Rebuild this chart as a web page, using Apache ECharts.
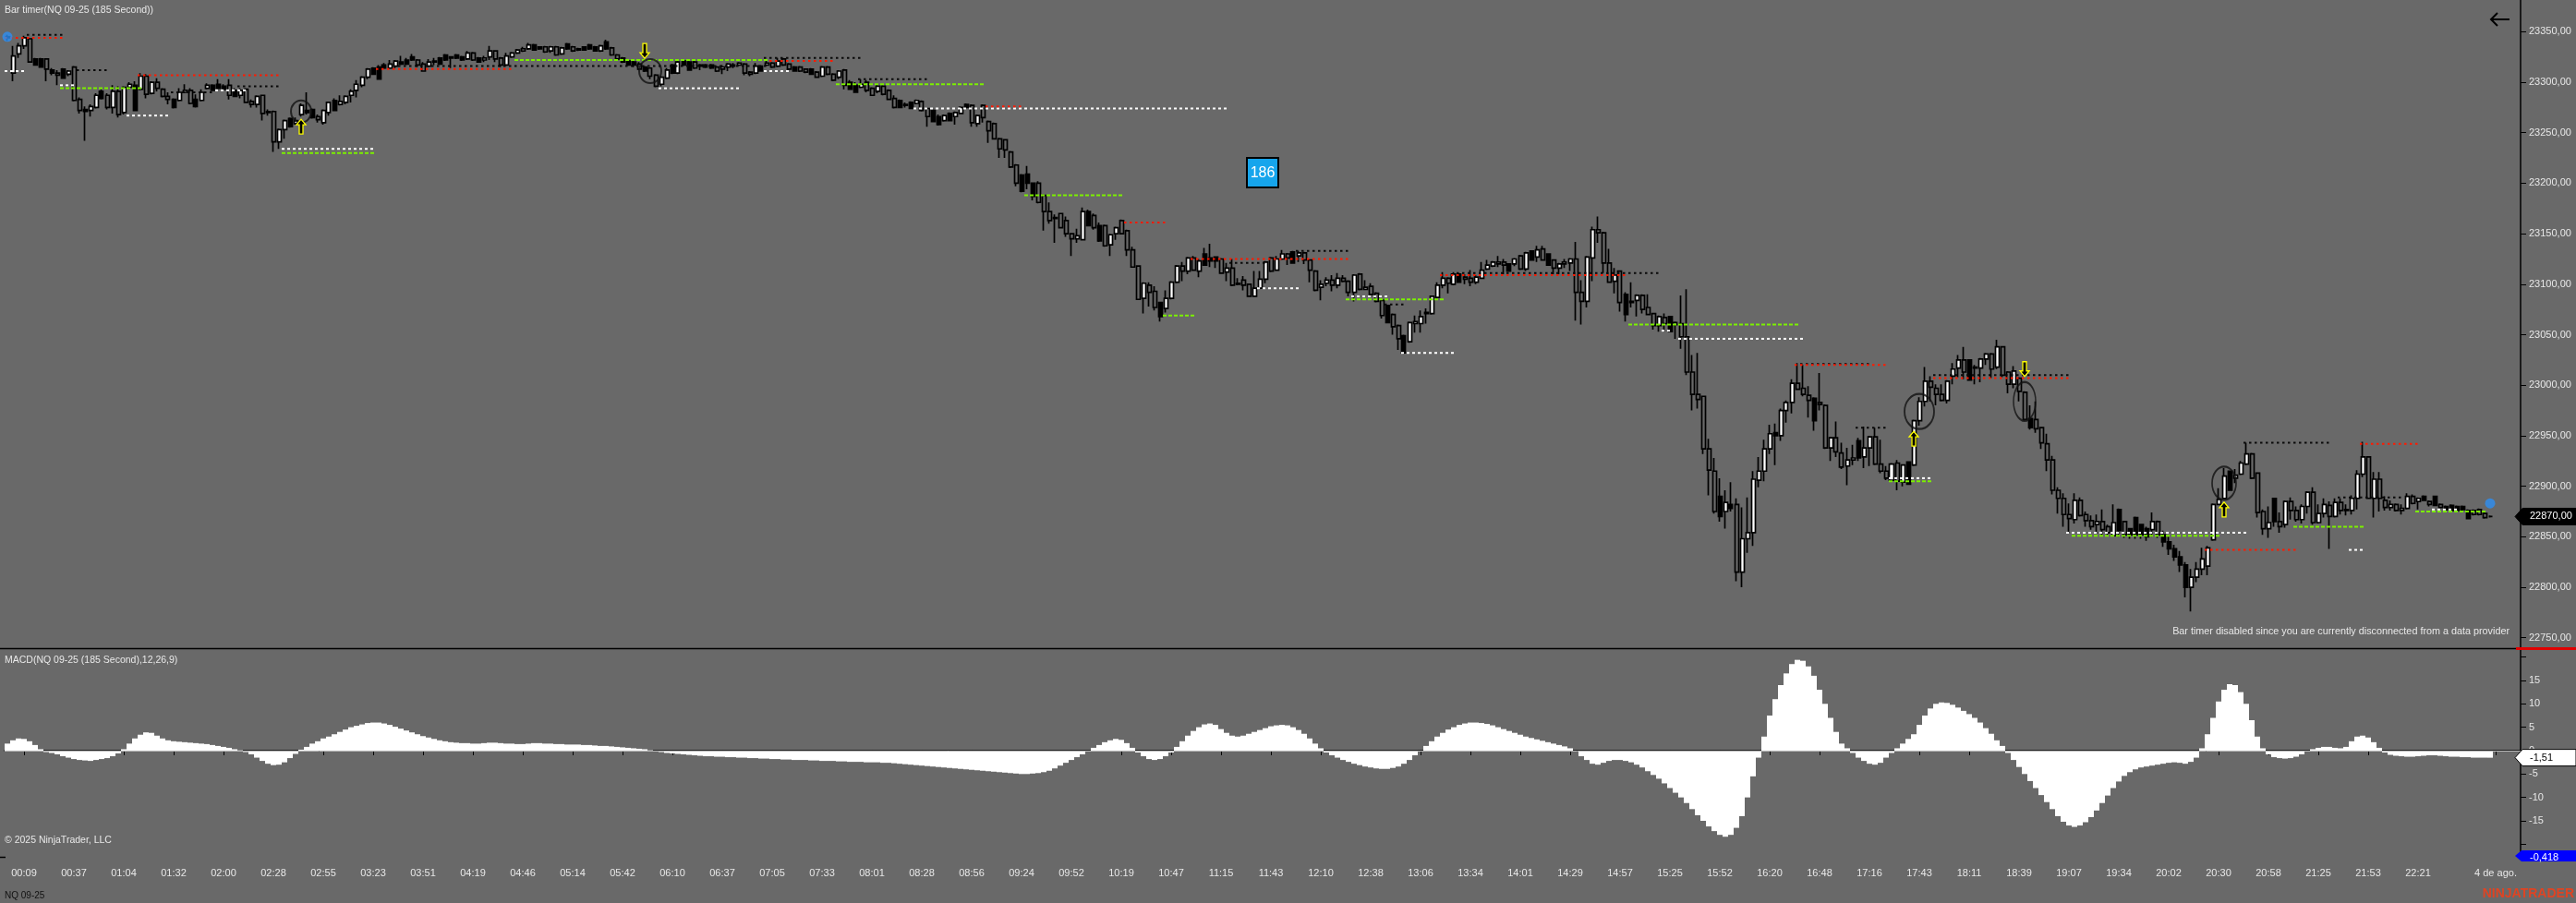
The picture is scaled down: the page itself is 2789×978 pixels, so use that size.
<!DOCTYPE html>
<html><head><meta charset="utf-8">
<script src="https://cdn.jsdelivr.net/npm/echarts@6/dist/echarts.min.js"></script>
<style>html,body{margin:0;padding:0;background:#696969;overflow:hidden}#c{width:2789px;height:978px}</style>
</head><body><div id="c"></div>
<script>
// ---------- DATA ----------
const tickLabels = ['00:09','00:37','01:04','01:32','02:00','02:28','02:55','03:23','03:51','04:19','04:46','05:14','05:42','06:10','06:37','07:05','07:33','08:01','08:28','08:56','09:24','09:52','10:19','10:47','11:15','11:43','12:10','12:38','13:06','13:34','14:01','14:29','14:57','15:25','15:52','16:20','16:48','17:16','17:43','18:11','18:39','19:07','19:34','20:02','20:30','20:58','21:25','21:53','22:21'];
const nextSessionLabel = '4 de ago.';
const priceTicks = [22750,22800,22850,22900,22950,23000,23050,23100,23150,23200,23250,23300,23350];
const macdLabelTicks = [-15,-10,-5,0,5,10,15];
const macdTickMarks = [-20,-15,-10,-5,0,5,10,15,20];
const barTimerValue = '186';
const macdSecondValue = -0.418;

// [open, high, low, close]
const ohlc = [
/*0*/[23344,23347,23341,23345],[23309,23336,23301,23326],[23328,23339,23324,23336],[23336,23346,23333,23344],[23343,23344,23320,23320],
/*5*/[23323,23324,23317,23317],[23323,23324,23315,23315],[23323,23323,23301,23313],[23312,23314,23307,23309],[23309,23312,23297,23307],
/*10*/[23313,23314,23304,23304],[23308,23312,23306,23311],[23315,23316,23281,23282],[23283,23285,23269,23272],[23273,23276,23242,23271],
/*15*/[23272,23278,23266,23276],[23275,23289,23274,23287],[23291,23293,23283,23284],[23287,23289,23273,23275],[23275,23297,23269,23291],
/*20*/[23291,23296,23265,23268],[23270,23296,23268,23295],[23295,23300,23293,23298],[23297,23301,23272,23272],[23293,23309,23292,23306],
/*25*/[23306,23308,23284,23288],[23289,23301,23288,23300],[23300,23304,23291,23294],[23293,23294,23285,23286],[23286,23290,23278,23283],
/*30*/[23283,23284,23274,23275],[23282,23294,23281,23290],[23290,23298,23289,23292],[23292,23294,23278,23279],[23283,23288,23275,23276],
/*35*/[23282,23293,23281,23290],[23294,23299,23293,23297],[23297,23298,23292,23292],[23298,23303,23293,23294],[23296,23298,23292,23293],
/*40*/[23297,23303,23283,23287],[23292,23294,23286,23286],[23287,23294,23284,23292],[23293,23294,23280,23280],[23281,23283,23275,23278],
/*45*/[23278,23287,23275,23286],[23287,23287,23262,23269],[23270,23273,23267,23271],[23271,23272,23231,23241],[23241,23254,23234,23253],
/*50*/[23253,23263,23244,23262],[23264,23265,23255,23256],[23259,23265,23258,23262],[23268,23279,23266,23277],[23272,23290,23268,23270],
/*55*/[23273,23274,23264,23265],[23266,23268,23260,23263],[23260,23273,23258,23272],[23270,23280,23267,23280],[23282,23284,23272,23272],
/*60*/[23278,23287,23277,23281],[23280,23287,23278,23286],[23287,23293,23280,23291],[23292,23302,23285,23298],[23297,23306,23295,23305],
/*65*/[23305,23314,23303,23313],[23314,23315,23308,23308],[23315,23317,23303,23303],[23317,23319,23313,23314],[23314,23322,23313,23318],
/*70*/[23316,23322,23314,23321],[23320,23326,23317,23318],[23322,23324,23317,23318],[23325,23328,23321,23322],[23322,23323,23315,23317],
/*75*/[23318,23320,23311,23311],[23316,23323,23315,23320],[23320,23324,23317,23321],[23324,23325,23317,23318],[23327,23328,23321,23322],
/*80*/[23324,23325,23314,23325],[23327,23328,23323,23324],[23325,23326,23321,23322],[23323,23331,23322,23329],[23329,23330,23321,23322],
/*85*/[23324,23325,23320,23320],[23322,23326,23320,23324],[23325,23336,23322,23331],[23331,23331,23320,23323],[23324,23325,23315,23317],
/*90*/[23317,23329,23316,23326],[23325,23330,23324,23329],[23329,23333,23328,23332],[23331,23335,23330,23333],[23333,23339,23332,23337],
/*95*/[23337,23338,23332,23332],[23335,23335,23332,23333],[23335,23336,23329,23330],[23331,23336,23329,23335],[23335,23336,23326,23327],
/*100*/[23328,23335,23327,23334],[23338,23339,23332,23333],[23335,23336,23330,23331],[23333,23334,23331,23332],[23335,23335,23332,23332],
/*105*/[23337,23338,23332,23333],[23335,23336,23331,23331],[23331,23337,23330,23336],[23340,23342,23332,23333],[23334,23335,23326,23327],
/*110*/[23327,23328,23322,23323],[23324,23325,23319,23320],[23321,23322,23316,23317],[23320,23322,23315,23317],[23318,23320,23312,23313],
/*115*/[23315,23316,23310,23311],[23314,23315,23303,23306],[23307,23308,23295,23296],[23298,23306,23296,23305],[23304,23314,23303,23312],
/*120*/[23317,23318,23308,23309],[23309,23322,23308,23320],[23321,23322,23316,23317],[23320,23321,23312,23312],[23320,23321,23313,23314],
/*125*/[23316,23318,23312,23317],[23317,23318,23314,23315],[23317,23318,23313,23314],[23315,23316,23310,23311],[23313,23317,23308,23315],
/*130*/[23315,23319,23311,23318],[23316,23319,23314,23317],[23317,23320,23316,23319],[23318,23319,23307,23309],[23310,23311,23306,23308],
/*135*/[23309,23319,23308,23316],[23316,23317,23311,23311],[23317,23323,23316,23319],[23319,23320,23314,23315],[23316,23324,23315,23321],
/*140*/[23323,23324,23316,23317],[23318,23319,23312,23313],[23315,23316,23311,23311],[23315,23316,23310,23311],[23313,23313,23309,23310],
/*145*/[23313,23314,23308,23308],[23310,23311,23305,23305],[23306,23316,23305,23315],[23315,23316,23307,23308],[23308,23309,23301,23302],
/*150*/[23305,23312,23303,23311],[23312,23313,23293,23297],[23300,23302,23293,23293],[23297,23300,23290,23290],[23295,23303,23294,23298],
/*155*/[23300,23302,23290,23292],[23294,23295,23287,23287],[23291,23298,23289,23296],[23296,23297,23287,23288],[23292,23293,23283,23283],
/*160*/[23284,23287,23274,23275],[23282,23283,23275,23275],[23277,23280,23275,23278],[23280,23281,23274,23274],[23279,23283,23278,23282],
/*165*/[23281,23282,23271,23272],[23274,23275,23256,23266],[23272,23273,23261,23261],[23266,23268,23257,23258],[23262,23268,23261,23267],
/*170*/[23269,23270,23262,23262],[23266,23271,23258,23270],[23269,23276,23269,23275],[23278,23279,23274,23275],[23277,23278,23256,23260],
/*175*/[23259,23268,23256,23267],[23277,23278,23260,23265],[23261,23262,23240,23252],[23259,23260,23244,23244],[23244,23245,23225,23234],
/*180*/[23243,23243,23225,23233],[23231,23232,23215,23216],[23218,23219,23197,23200],[23208,23209,23191,23192],[23209,23217,23194,23200],
/*185*/[23200,23200,23183,23187],[23200,23202,23180,23181],[23188,23188,23153,23172],[23172,23181,23160,23163],[23166,23169,23141,23165],
/*190*/[23170,23170,23156,23156],[23163,23167,23147,23150],[23150,23150,23128,23145],[23145,23155,23141,23148],[23144,23176,23144,23172],
/*195*/[23172,23174,23158,23158],[23168,23170,23154,23156],[23158,23161,23142,23143],[23158,23159,23137,23138],[23139,23150,23128,23149],
/*200*/[23150,23157,23144,23156],[23163,23164,23150,23150],[23153,23154,23128,23134],[23134,23137,23117,23117],[23118,23118,23085,23085],
/*205*/[23086,23102,23071,23101],[23099,23102,23078,23092],[23093,23098,23074,23077],[23082,23082,23063,23068],[23076,23094,23072,23086],
/*210*/[23086,23103,23085,23102],[23102,23119,23101,23118],[23118,23122,23103,23113],[23113,23127,23110,23126],[23126,23128,23113,23114],
/*215*/[23113,23125,23107,23123],[23130,23136,23119,23119],[23126,23140,23117,23123],[23127,23127,23116,23123],[23125,23126,23111,23111],
/*220*/[23112,23121,23103,23116],[23116,23125,23098,23099],[23100,23106,23099,23101],[23104,23108,23094,23099],[23100,23100,23088,23088],
/*225*/[23088,23113,23088,23096],[23096,23113,23095,23105],[23105,23123,23101,23122],[23126,23127,23112,23113],[23114,23128,23113,23125],
/*230*/[23125,23134,23124,23130],[23130,23131,23119,23126],[23132,23133,23121,23121],[23128,23133,23122,23131],[23131,23132,23120,23124],
/*235*/[23124,23124,23102,23114],[23113,23114,23093,23094],[23097,23104,23084,23100],[23101,23107,23098,23104],[23104,23109,23093,23099],
/*240*/[23099,23111,23096,23106],[23106,23109,23102,23103],[23103,23104,23088,23092],[23092,23110,23083,23109],[23110,23111,23094,23095],
/*245*/[23095,23104,23095,23097],[23098,23101,23089,23090],[23091,23092,23082,23083],[23084,23085,23066,23069],[23079,23079,23062,23062],
/*250*/[23070,23071,23050,23058],[23059,23060,23035,23046],[23049,23050,23031,23032],[23043,23063,23042,23062],[23061,23069,23052,23063],
/*255*/[23061,23074,23052,23068],[23071,23076,23061,23072],[23071,23089,23070,23088],[23087,23102,23086,23099],[23099,23112,23096,23106],
/*260*/[23106,23107,23091,23101],[23100,23112,23099,23110],[23110,23111,23102,23102],[23107,23110,23100,23105],[23106,23114,23098,23102],
/*265*/[23102,23109,23100,23107],[23106,23122,23106,23114],[23115,23124,23114,23119],[23118,23123,23117,23122],[23120,23128,23117,23122],
/*270*/[23122,23125,23110,23119],[23120,23120,23113,23113],[23120,23126,23118,23125],[23128,23129,23114,23115],[23115,23132,23113,23131],
/*275*/[23133,23133,23124,23124],[23127,23138,23122,23134],[23135,23138,23124,23124],[23130,23130,23119,23119],[23124,23124,23110,23116],
/*280*/[23116,23121,23110,23120],[23120,23125,23116,23122],[23121,23126,23113,23125],[23125,23142,23064,23092],[23092,23104,23060,23083],
/*285*/[23083,23128,23077,23127],[23126,23157,23103,23154],[23154,23167,23141,23151],[23151,23152,23111,23121],[23121,23135,23102,23102],
/*290*/[23103,23116,23091,23109],[23113,23113,23073,23082],[23090,23092,23063,23070],[23082,23102,23077,23083],[23084,23090,23068,23089],
/*295*/[23089,23090,23071,23075],[23077,23090,23070,23070],[23071,23071,23055,23059],[23059,23069,23053,23068],[23067,23071,23053,23061],
/*300*/[23068,23068,23053,23053],[23060,23063,23046,23062],[23061,23089,23036,23048],[23048,23095,23010,23013],[23013,23030,22975,22991],
/*305*/[22991,23032,22977,22986],[22989,22989,22932,22937],[22937,22947,22891,22916],[22915,22928,22873,22875],[22890,22908,22865,22870],
/*310*/[22875,22896,22858,22884],[22882,22904,22875,22878],[22882,22888,22806,22815],[22815,22879,22800,22848],[22848,22889,22834,22854],
/*315*/[22854,22915,22841,22907],[22906,22929,22899,22915],[22915,22946,22905,22937],[22937,22961,22932,22952],[22953,22962,22921,22950],
/*320*/[22950,22977,22945,22975],[22975,22985,22963,22983],[22983,23006,22972,23002],[23002,23022,22996,22996],[22997,23020,22989,22991],
/*325*/[22990,22999,22968,22985],[22987,22988,22955,22965],[22983,23012,22975,22981],[22980,22981,22937,22938],[22938,22949,22925,22948],
/*330*/[22948,22964,22929,22934],[22933,22943,22917,22919],[22920,22938,22901,22926],[22926,22941,22921,22928],[22945,22948,22925,22928],
/*335*/[22929,22959,22918,22938],[22938,22950,22920,22949],[22949,22958,22921,22922],[22922,22946,22913,22915],[22915,22920,22906,22908],
/*340*/[22906,22923,22905,22922],[22923,22926,22896,22905],[22904,22921,22900,22921],[22924,22924,22902,22902],[22921,22966,22920,22965],
/*345*/[22965,22988,22960,22984],[22984,23018,22979,23004],[23004,23009,22984,22998],[22997,23001,22980,22991],[22991,23001,22984,22985],
/*350*/[22985,23005,22982,23004],[23009,23022,23001,23016],[23017,23030,23008,23025],[23025,23038,23006,23013],[23025,23025,23005,23005],
/*355*/[23017,23020,23001,23018],[23017,23027,23003,23026],[23026,23032,23020,23031],[23031,23032,23007,23016],[23018,23045,23016,23038],
/*360*/[23038,23038,23008,23010],[23013,23014,22992,23001],[23001,23019,22997,23014],[23007,23008,22984,22994],[22993,22994,22965,22966],
/*365*/[22967,22980,22956,22958],[22966,22984,22953,22957],[22958,22958,22937,22943],[22942,22952,22915,22926],[22926,22930,22892,22896],
/*370*/[22896,22899,22873,22888],[22888,22893,22860,22872],[22872,22883,22854,22868],[22867,22893,22863,22886],[22886,22889,22870,22871],
/*375*/[22872,22875,22860,22866],[22866,22871,22857,22860],[22862,22872,22853,22865],[22865,22877,22851,22857],[22860,22862,22851,22854],
/*380*/[22851,22882,22851,22864],[22877,22878,22850,22856],[22865,22865,22849,22852],[22858,22858,22848,22852],[22869,22870,22848,22852],
/*385*/[22862,22862,22848,22852],[22858,22860,22846,22850],[22857,22874,22850,22865],[22865,22866,22849,22852],[22852,22856,22840,22845],
/*390*/[22845,22850,22832,22838],[22838,22842,22826,22830],[22830,22836,22815,22822],[22822,22825,22790,22800],[22800,22818,22776,22810],
/*395*/[22810,22825,22805,22818],[22818,22839,22812,22828],[22821,22841,22812,22839],[22847,22883,22846,22882],[22882,22898,22882,22887],
/*400*/[22888,22918,22888,22910],[22915,22915,22896,22896],[22908,22917,22903,22911],[22912,22925,22911,22923],[22922,22943,22921,22932],
/*405*/[22932,22933,22907,22908],[22913,22913,22869,22874],[22875,22877,22852,22858],[22858,22880,22849,22864],[22888,22888,22860,22865],
/*410*/[22865,22874,22854,22860],[22862,22886,22859,22885],[22885,22889,22867,22876],[22876,22880,22865,22867],[22867,22882,22863,22880],
/*415*/[22880,22895,22873,22894],[22894,22899,22862,22864],[22864,22882,22863,22873],[22873,22888,22869,22882],[22881,22885,22838,22870],
/*420*/[22870,22888,22869,22884],[22884,22888,22872,22876],[22876,22882,22871,22877],[22876,22891,22872,22888],[22888,22916,22877,22912],
/*425*/[22912,22944,22909,22929],[22929,22929,22888,22888],[22888,22914,22869,22907],[22907,22914,22875,22888],[22886,22890,22876,22879],
/*430*/[22879,22886,22876,22882],[22882,22883,22875,22876],[22876,22882,22872,22878],[22878,22893,22877,22890],[22890,22892,22882,22883],
/*435*/[22885,22889,22877,22888],[22890,22891,22886,22886],[22885,22886,22880,22882],[22890,22890,22881,22881],[22882,22883,22878,22879],
/*440*/[22880,22881,22876,22877],[22881,22882,22876,22876],[22880,22881,22876,22876],[22880,22881,22876,22877],[22876,22877,22868,22868],
/*445*/[22876,22877,22871,22872],[22877,22878,22871,22872],[22873,22874,22868,22869],[22870,22871,22869,22870]
];

// bars drawn hollow (painted transparent by the chart style)
const hollowBars = [4,7,9,12,13,18,20,25,27,28,29,33,40,43,44,46,48,56,
74,75,84,88,89,97,99,102,109,110,
114,116,117,124,128,133,134,138,140,141,143,144,146,148,149,151,155,156,158,159,160,165,166,
174,176,177,178,179,180,181,182,186,187,188,190,191,192,196,198,201,202,203,204,206,207,212,214,219,221,223,224,
228,231,234,235,236,239,241,242,244,246,247,248,250,251,260,263,264,270,273,277,279,283,
284,287,288,289,291,295,296,297,299,302,303,304,305,306,307,308,312,323,324,325,327,328,330,331,337,338,339,
341,347,348,349,353,358,360,361,363,364,366,367,368,369,370,371,372,374,375,376,378,379,382,388,
405,406,407,410,412,413,416,419,421,426,428,429,431,434,437,439,445,446,447];

const macd = [
1.5,2.2,2.6,2.5,2.0,1.2,
0.3,-0.3,-0.5,-0.8,
-1.2,-1.5,-1.8,-2.0,-2.1,-2.2,-2.0,-1.8,-1.6,-1.2,-0.6,0.3,
1.5,2.6,3.4,3.9,3.8,3.2,2.6,
2.2,2.0,1.9,1.8,1.7,1.6,1.5,1.4,1.2,1.0,0.8,0.6,0.3,
0.1,-0.3,-0.8,-1.5,-2.2,
-2.8,-3.1,-3.0,-2.5,-1.6,-0.7,
0.2,0.8,1.5,2.0,2.6,
3.0,3.5,4.0,4.5,5.0,5.3,5.6,5.9,6.0,6.0,5.8,5.5,5.1,
4.7,4.3,3.9,3.5,3.1,2.8,2.5,2.2,2.0,1.8,
1.7,1.6,1.6,1.5,1.5,1.6,1.7,1.7,1.6,1.5,1.5,1.4,1.4,1.5,1.6,1.6,1.5,1.5,1.4,1.4,1.3,1.3,1.3,1.2,1.2,
1.1,1.0,1.0,0.9,0.8,0.7,0.6,0.5,0.4,0.3,0.1,-0.1,
-0.3,-0.5,-0.6,-0.7,-0.8,-0.9,-1.0,-1.1,-1.2,-1.2,-1.3,-1.3,-1.4,-1.4,-1.5,
-1.5,-1.6,-1.6,-1.7,-1.7,-1.8,-1.8,-1.9,-1.9,-2.0,-2.0,-2.0,-2.1,-2.1,-2.2,-2.2,-2.2,-2.3,-2.3,-2.4,-2.4,-2.4,-2.5,-2.5,-2.5,-2.6,
-2.6,-2.7,-2.8,-2.9,-3.0,-3.1,-3.2,-3.3,-3.4,-3.5,-3.6,-3.7,-3.8,-3.9,-4.0,-4.1,-4.2,-4.3,
-4.4,-4.5,-4.6,-4.7,-4.8,-4.9,-5.0,-5.0,-4.9,-4.8,-4.6,-4.3,
-3.8,-3.2,-2.6,-2.0,-1.4,-0.8,-0.2,
0.6,1.2,1.8,2.2,2.5,2.3,1.6,
0.6,-0.4,-1.2,-1.8,-2.0,-1.8,-1.2,-0.4,
0.8,2.0,3.2,4.2,5.0,5.6,5.8,5.5,4.6,
3.8,3.2,3.0,3.2,3.6,
4.0,4.4,4.8,5.2,5.4,5.5,5.4,5.0,4.4,3.6,
2.6,1.5,0.5,-0.4,-1.0,-1.5,-2.0,-2.4,-2.8,-3.1,-3.4,
-3.6,-3.8,-3.9,-3.9,-3.7,-3.4,-2.8,-2.0,-1.0,0.0,1.0,
2.0,3.0,3.8,4.5,5.0,5.5,5.8,6.0,6.0,5.9,5.7,5.4,5.0,4.6,4.2,3.8,
3.4,3.0,2.7,2.4,2.1,1.8,1.5,1.2,0.9,0.5,0.0,
-1.2,-2.0,-2.8,-3.0,-2.6,
-2.2,-2.0,-2.0,-2.2,-2.5,-3.0,-3.6,
-4.4,-5.2,-6.0,-7.0,-8.0,-9.0,-10.0,-11.2,-12.5,-13.8,
-15.0,-16.2,-17.2,-18.0,-18.4,-18.0,-16.5,-14.0,
-10.0,-5.5,-1.5,
3.0,7.5,11.0,14.0,16.5,
18.5,19.4,19.2,18.0,16.0,
13.0,10.0,7.0,4.0,1.5,
0.5,-0.5,-1.5,-2.2,-2.8,-3.0,-2.6,-1.5,
-0.5,0.5,1.5,2.5,3.5,5.5,
7.5,9.0,10.0,10.3,10.2,9.8,9.2,8.5,7.8,
7.0,6.0,4.8,3.6,2.2,
1.0,-0.5,-2.0,-3.5,-5.0,-6.5,
-8.0,-9.5,-11.0,-12.5,-14.0,-15.2,-16.0,-16.3,-16.0,-15.3,
-14.2,-12.8,-11.2,-9.6,-8.0,-6.6,
-5.4,-4.6,-4.0,-3.6,-3.4,-3.2,-3.0,-2.8,-2.6,-2.5,-2.6,-2.8,-2.4,-1.5,
0.5,3.5,7.0,10.5,
13.0,14.2,14.0,12.5,10.0,
6.5,3.0,0.5,-0.8,-1.4,
-1.6,-1.7,-1.6,-1.3,-0.8,-0.2,
0.3,0.6,0.8,0.8,0.6,0.5,0.8,
2.0,3.0,3.2,2.8,1.8,
0.6,-0.4,-0.9,-1.1,-1.2,-1.3,-1.3,-1.2,-1.1,-1.0,-1.0,-1.1,-1.2,-1.3,-1.3,-1.4,-1.4,-1.5,-1.5,-1.5,-1.51
];

// swing levels: [startBar, endBar, price]
const redLevels = [[0,10,23344],[24,49,23307],[67,91,23313],[138,149,23321],[177,183,23276],[202,209,23161],[214,242,23125],[259,292,23109],[323,339,23020],[348,372,23007],[397,413,22837],[425,435,22942]];
const blackLevels = [[4,10,23347],[13,18,23312],[30,37,23290],[42,49,23296],[71,137,23316],[137,154,23324],[154,166,23303],[221,227,23121],[233,242,23133],[249,252,23080],[262,298,23111],[324,336,23021],[334,339,22958],[348,372,23010],[404,419,22943],[421,432,22889]];
const whiteLevels = [[0,3,23311],[10,12,23297],[22,29,23267],[38,43,23292],[50,66,23234],[118,132,23294],[137,141,23311],[164,220,23274],[226,233,23096],[243,249,23088],[252,261,23032],[299,300,23054],[302,324,23046],[340,347,22908],[372,404,22854],[423,425,22837],[438,442,22877]];
const greenLevels = [[10,24,23294],[50,66,23230],[92,137,23322],[150,176,23298],[184,201,23188],[209,214,23069],[242,259,23085],[293,323,23060],[340,347,22905],[373,399,22851],[413,425,22860],[435,447,22875]];

// signal markers [bar, price]
const upArrows = [[53,23256],[344,22947],[400,22877]];
const downArrows = [[115,23331],[364,23016]];
const circles = [[53,23271],[116,23311],[345,22974],[364,22984],[400,22903]];
const sessionDots = [[0,23345],[448,22883]];

// ---------- STYLE / LAYOUT ----------
const BG = '#696969';
const FONT = 'Liberation Sans';
const TXT = '#e8e8e8';
const circleSizes = [[22,24],[24,26],[32,38],[24,42],[26,36]];
const NCAT = 454;
const cats = Array.from({length: NCAT}, (_, i) => String(i));
const tickMap = {};
tickLabels.forEach((t, k) => { tickMap[3 + 9 * k] = t; });
tickMap[444] = '';
tickMap[449] = nextSessionLabel;
const hollowSet = new Set(hollowBars);

const candleData = ohlc.map((r, i) => {
  const it = { value: [r[0], r[3], r[2], r[1]] };
  if (hollowSet.has(i)) it.itemStyle = { color0: BG };
  return it;
});

function levelSeries(data, color, dash, width) {
  return {
    type: 'custom', xAxisIndex: 0, yAxisIndex: 0, data, silent: true, z: 5, clip: true,
    encode: { x: [0, 1], y: 2 },
    renderItem(params, api) {
      const a = api.coord([api.value(0), api.value(2)]);
      const b = api.coord([api.value(1), api.value(2)]);
      return { type: 'line', shape: { x1: a[0] - 3, y1: a[1], x2: b[0] + 3, y2: b[1] },
        style: { stroke: color, lineWidth: width, lineDash: dash } };
    }
  };
}
function arrowSeries(data, up) {
  return {
    type: 'custom', xAxisIndex: 0, yAxisIndex: 0, data, silent: true, z: 7,
    renderItem(params, api) {
      const c = api.coord([api.value(0), api.value(1)]);
      const s = up ? 1 : -1;
      const x = c[0], y = c[1];
      const pts = [[x, y - 8 * s], [x + 5, y - 2 * s], [x + 2, y - 2 * s], [x + 2, y + 8 * s],
                   [x - 2, y + 8 * s], [x - 2, y - 2 * s], [x - 5, y - 2 * s]];
      return { type: 'polygon', shape: { points: pts }, style: { fill: '#000', stroke: '#ffff00', lineWidth: 1.3 } };
    }
  };
}

const chart = echarts.init(document.getElementById('c'), null, { renderer: 'canvas' });
const tickFn = (idx) => Object.prototype.hasOwnProperty.call(tickMap, idx);

chart.setOption({
  animation: false,
  backgroundColor: BG,
  grid: [
    { left: 5, right: 60, top: 0, height: 702 },
    { left: 5, right: 60, top: 703, height: 225 }
  ],
  xAxis: [
    { type: 'category', gridIndex: 0, data: cats, boundaryGap: true,
      axisLine: { show: false }, axisTick: { show: false }, axisLabel: { show: false }, splitLine: { show: false } },
    { type: 'category', gridIndex: 1, data: cats, boundaryGap: true,
      axisLine: { show: true, lineStyle: { color: '#000', width: 1.5 } },
      axisTick: { show: true, alignWithLabel: true, interval: tickFn, length: 5, lineStyle: { color: '#000' } },
      axisLabel: { interval: tickFn, formatter: (v, idx) => tickMap[idx] || '', color: TXT, fontFamily: FONT, fontSize: 11, margin: 12, showMinLabel: true, showMaxLabel: true, hideOverlap: false },
      splitLine: { show: false } }
  ],
  yAxis: [
    { type: 'value', gridIndex: 0, position: 'right', min: 22739.7, max: 23381.4, scale: true,
      axisLine: { show: true, lineStyle: { color: '#000', width: 1.5 } },
      axisTick: { show: true, length: 6, customValues: priceTicks, lineStyle: { color: '#000' } },
      axisLabel: { customValues: priceTicks, formatter: v => v.toFixed(2).replace('.', ','), color: TXT, fontFamily: FONT, fontSize: 11, margin: 9 },
      splitLine: { show: false } },
    { type: 'value', gridIndex: 1, position: 'right', min: -22.7, max: 21.7,
      axisLine: { show: true, lineStyle: { color: '#000', width: 1.5 } },
      axisTick: { show: true, length: 6, customValues: macdTickMarks, lineStyle: { color: '#000' } },
      axisLabel: { customValues: macdLabelTicks, formatter: v => String(v), color: TXT, fontFamily: FONT, fontSize: 11, margin: 9 },
      splitLine: { show: false } }
  ],
  series: [
    { type: 'candlestick', xAxisIndex: 0, yAxisIndex: 0, data: candleData, barWidth: 4.5, z: 2,
      itemStyle: { color: '#ffffff', color0: '#000000', borderColor: '#000000', borderColor0: '#000000', borderWidth: 1.7 } },
    levelSeries(blackLevels, '#0a0a0a', [2.5, 3.5], 2),
    levelSeries(whiteLevels, '#ffffff', [3, 3], 2),
    levelSeries(redLevels, '#ff1a00', [2.5, 3.5], 2),
    levelSeries(greenLevels, '#7cf000', [4, 2], 2),
    { type: 'scatter', xAxisIndex: 0, yAxisIndex: 0, data: circles, silent: true, z: 6,
      symbol: 'circle', symbolSize: (v, p) => circleSizes[p.dataIndex],
      itemStyle: { color: 'rgba(0,0,0,0)', borderColor: '#111', borderWidth: 2 } },
    arrowSeries(upArrows, true),
    arrowSeries(downArrows, false),
    { type: 'scatter', xAxisIndex: 0, yAxisIndex: 0, data: sessionDots, silent: true, z: 8,
      symbol: 'circle', symbolSize: 11, itemStyle: { color: '#2d8ef2' } },
    { type: 'bar', xAxisIndex: 1, yAxisIndex: 1, data: macd, barCategoryGap: '0%', z: 2,
      itemStyle: { color: '#ffffff' },
      markLine: { silent: true, symbol: 'none', label: { show: false },
        lineStyle: { color: '#b9b9b9', width: 1, type: 'solid' }, data: [{ yAxis: 0 }] } }
  ]
});

// ---------- overlays ----------
const lastClose = ohlc[ohlc.length - 1][3];
const lastMacd = macd[macd.length - 1];
const yP = chart.convertToPixel({ yAxisIndex: 0 }, lastClose);
const yM = chart.convertToPixel({ yAxisIndex: 1 }, lastMacd);
const fmt = (v, d) => v.toFixed(d).replace('.', ',');
function tag(y, fill, stroke, txt, tcol) {
  return [
    { type: 'polygon', z: 50, shape: { points: [[2723, y], [2731, y - 9], [2789, y - 9], [2789, y + 9], [2731, y + 9]] },
      style: { fill, stroke, lineWidth: 1 } },
    { type: 'text', z: 51, x: 2739, y, style: { text: txt, fill: tcol, font: '11px "' + FONT + '"', verticalAlign: 'middle' } }
  ];
}
const txt = (x, y, s, size, color, extra) => Object.assign({ type: 'text', z: 40, x, y,
  style: Object.assign({ text: s, fill: color, font: size + 'px "' + FONT + '"', verticalAlign: 'middle' }, extra || {}) });

chart.setOption({
  graphic: [
    txt(5, 11, 'Bar timer(NQ 09-25 (185 Second))', 10.5, TXT),
    txt(5, 715, 'MACD(NQ 09-25 (185 Second),12,26,9)', 10.5, TXT),
    txt(5, 910, '\u00a9 2025 NinjaTrader, LLC', 10.5, TXT),
    txt(5, 970, 'NQ 09-25', 10, '#111'),
    txt(2717, 684, 'Bar timer disabled since you are currently disconnected from a data provider', 10.8, TXT, { align: 'right' }),
    { type: 'text', z: 40, x: 2787, y: 968, style: { text: 'NINJATRADER', fill: '#df4423', font: 'bold 14px "' + FONT + '"', align: 'right', verticalAlign: 'middle' } },
    { type: 'line', z: 30, shape: { x1: 0, y1: 702.5, x2: 2730, y2: 702.5 }, style: { stroke: '#000', lineWidth: 1.5 } },
    { type: 'rect', z: 30, shape: { x: 2724, y: 701, width: 65, height: 3 }, style: { fill: '#e00000' } },
    { type: 'line', z: 30, shape: { x1: 0, y1: 928.5, x2: 6, y2: 928.5 }, style: { stroke: '#000', lineWidth: 1.5 } },
    // back arrow
    { type: 'polyline', z: 30, shape: { points: [[2704, 14], [2697, 21], [2704, 28]] }, style: { stroke: '#000', lineWidth: 2, fill: null } },
    { type: 'line', z: 30, shape: { x1: 2697, y1: 21, x2: 2717, y2: 21 }, style: { stroke: '#000', lineWidth: 2 } },
    // bar timer box
    { type: 'rect', z: 30, shape: { x: 1350, y: 171, width: 34, height: 32 }, style: { fill: '#16a5ec', stroke: '#000', lineWidth: 2 } },
    { type: 'text', z: 31, x: 1367, y: 187.5, style: { text: barTimerValue, fill: '#fff', font: '16px "' + FONT + '"', align: 'center', verticalAlign: 'middle' } },
    ...tag(yP, '#000', '#000', fmt(lastClose, 2), '#fff'),
    ...tag(yM, '#fff', '#000', fmt(lastMacd, 2), '#000'),
    { type: 'polygon', z: 50, shape: { points: [[2723, 927], [2730, 921], [2789, 921], [2789, 933], [2730, 933]] }, style: { fill: '#0000ff' } },
    { type: 'text', z: 51, x: 2739, y: 929, style: { text: fmt(macdSecondValue, 3), fill: '#fff', font: '11px "' + FONT + '"', verticalAlign: 'middle' } }
  ]
});
</script>
</body></html>
